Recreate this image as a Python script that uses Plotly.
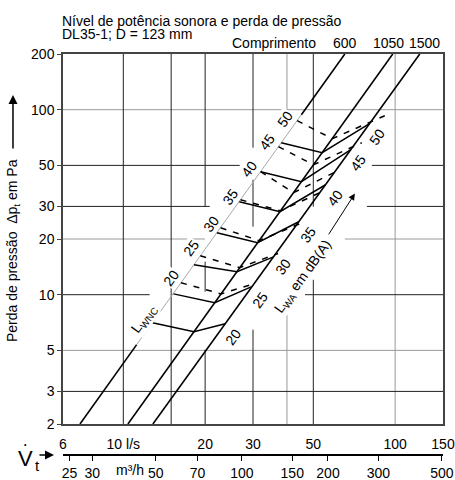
import math
import plotly.graph_objects as go

# ---------------- data ----------------
# duct length lines "Comprimento" (mm): flow in l/s at Δp = 2 Pa and 200 Pa
comprimento = ["600", "1050", "1500"]
len_v_bottom = [6.93, 10.4, 12.85]
len_v_top = [65.3, 98.0, 123.2]
len_p_bottom = 2
len_p_top = 200
# part of the 600 line drawn thin grey (carries the L_WNC scale)
scale_v = [11.2, 45.2]
scale_p = [5.37, 94.0]

# L_WA iso-lines (solid): points on 600 / 1050 / 1500 lines
lwa_levels = ["20", "25", "30", "35", "40", "45", "50"]
lwa_v = [[12.8, 18.2, 23.7], [15.3, 21.7, 29.7], [18.2, 26.2, 35.7], [22.1, 31.2, 44.2],
         [26.7, 37.7, 55.5], [32.0, 45.2, 68.7], [38.1, 53.9, 80.5]]
lwa_p = [[7.06, 6.31, 6.97], [10.1, 9.05, 11.05], [14.5, 13.3, 16.0], [21.6, 19.1, 24.8],
         [31.8, 28.1, 39.3], [46.2, 40.8, 60.8], [66.3, 58.6, 84.0]]
lwa_label_v = [25.3, 31.8, 38.6, 47.7, 60.0, 72.9, 85.6]
lwa_label_p = [5.93, 9.39, 14.17, 21.1, 33.4, 51.7, 71.4]

# L_WNC iso-lines (dashed)
lwnc_levels = ["20", "25", "30", "35", "40", "45", "50"]
lwnc_v = [[16.3, 22.9, 30.5], [19.2, 26.8, 37.1], [22.8, 31.6, 44.6], [27.0, 37.9, 53.7],
          [32.0, 42.3, 62.6], [37.2, 50.1, 75.4], [43.6, 58.7, 91.6]]
lwnc_p = [[11.6, 10.1, 11.5], [16.25, 14.0, 16.7], [23.0, 19.6, 24.2], [32.6, 28.4, 36.0],
          [46.2, 35.6, 47.4], [63.1, 50.4, 66.3], [87.2, 69.7, 92.8]]
lwnc_label_v = [14.97, 17.73, 21.0, 24.67, 28.98, 33.74, 39.3]
lwnc_label_p = [12.36, 17.95, 24.2, 33.9, 48.0, 67.1, 89.4]

# axes
x_ticks_ls = [6, 10, 20, 30, 50, 100, 150]
x_ticktext_ls = ["6", "10 l/s", "20", "30", "50", "100", "150"]
x_ticks_m3h = [25, 30, 50, 70, 100, 150, 200, 300, 500]
y_ticks = [2, 3, 5, 10, 20, 30, 50, 100, 200]

# grid lines (value, tone, visible spans)
h_grid = [(100, "g", [(6, 150)]), (50, "d", [(6, 26.8), (82.1, 150)]),
          (30, "d", [(6, 20.8), (78.7, 150)]), (20, "g", [(6, 19.96), (65.3, 150)]),
          (10, "d", [(6, 12.5), (46.6, 150)]), (5, "g", [(6, 150)]), (3, "d", [(6, 150)])]
v_grid = [(10, "d", [(2, 200)]), (15, "d", [(2, 200)]),
          (20, "d", [(2, 5.04), (10.38, 15.08), (29.9, 200)]),
          (30, "d", [(2, 6.47), (23.3, 41.8), (62.3, 200)]),
          (40, "g", [(2, 7.8), (88.3, 200)]), (50, "d", [(2, 12.05), (29.9, 200)]),
          (100, "g", [(2, 200)])]

DARK = "#222222"
GREY = "#9a9a9a"
FONT = "Liberation Sans, Arial, Helvetica, sans-serif"

fig = go.Figure()

# grid
for tone, col in (("g", GREY), ("d", DARK)):
    xs, ys = [], []
    for val, t, spans in h_grid:
        if t != tone:
            continue
        for a, b in spans:
            xs += [a, b, None]
            ys += [val, val, None]
    for val, t, spans in v_grid:
        if t != tone:
            continue
        for a, b in spans:
            xs += [val, val, None]
            ys += [a, b, None]
    fig.add_trace(go.Scatter(x=xs, y=ys, mode="lines", line=dict(color=col, width=1),
                             hoverinfo="skip"))

# duct length lines
for i, name in enumerate(comprimento):
    if i == 0:
        fig.add_trace(go.Scatter(x=[len_v_bottom[i], scale_v[0]], y=[len_p_bottom, scale_p[0]],
                                 mode="lines", line=dict(color="black", width=1.6)))
        fig.add_trace(go.Scatter(x=scale_v, y=scale_p, mode="lines",
                                 line=dict(color="#a8a8a8", width=1)))
        fig.add_trace(go.Scatter(x=[scale_v[1], len_v_top[i]], y=[scale_p[1], len_p_top],
                                 mode="lines", line=dict(color="black", width=1.6)))
    else:
        fig.add_trace(go.Scatter(x=[len_v_bottom[i], len_v_top[i]], y=[len_p_bottom, len_p_top],
                                 mode="lines", line=dict(color="black", width=1.6), name=name))

# L_WA solid lines
for v, p in zip(lwa_v, lwa_p):
    fig.add_trace(go.Scatter(x=v, y=p, mode="lines", line=dict(color="black", width=1.5)))
# L_WNC dashed lines
for v, p in zip(lwnc_v, lwnc_p):
    fig.add_trace(go.Scatter(x=v, y=p, mode="lines",
                             line=dict(color="black", width=1.5, dash="6px,7px")))

# helper axis trace for m3/h scale
fig.add_trace(go.Scatter(x=[25, 500], y=[2, 2], xaxis="x2", yaxis="y", mode="markers",
                         marker=dict(opacity=0), hoverinfo="skip"))


def pann(x, y, text, size=14, xa="center", ya="middle", **kw):
    d = dict(x=x, y=y, xref="paper", yref="paper", text=text, showarrow=False,
             xanchor=xa, yanchor=ya, font=dict(size=size))
    d.update(kw)
    return d


ann = []
ANG = -54
for lab, v, p in zip(lwnc_levels, lwnc_label_v, lwnc_label_p):
    ann.append(dict(x=math.log10(v), y=math.log10(p), xref="x", yref="y", text=lab,
                    showarrow=False, textangle=ANG, font=dict(size=14), bgcolor="white",
                    borderpad=0))
for lab, v, p in zip(lwa_levels, lwa_label_v, lwa_label_p):
    ann.append(dict(x=math.log10(v), y=math.log10(p), xref="x", yref="y", text=lab,
                    showarrow=False, textangle=ANG, font=dict(size=14), bgcolor="white",
                    borderpad=0))
ann.append(dict(x=math.log10(11.91), y=math.log10(7.42), xref="x", yref="y",
                text="L<sub>WNC</sub>", showarrow=False, textangle=ANG, font=dict(size=14),
                bgcolor="white", borderpad=0))
ann.append(dict(x=math.log10(45.8), y=math.log10(12.5), xref="x", yref="y",
                text="L<sub>WA</sub> em dB(A)", showarrow=False, textangle=ANG,
                font=dict(size=14), bgcolor="white", borderpad=0))
ann.append(dict(x=math.log10(71.1), y=math.log10(35.2), xref="x", yref="y",
                ax=math.log10(56.5), ay=math.log10(20.8), axref="x", ayref="y", text="",
                showarrow=True, arrowhead=2, arrowsize=1.3, arrowwidth=1, arrowcolor="black"))
# top labels
ann.append(pann(-0.008, 1.0831, "Nível de potência sonora e perda de pressão", xa="left"))
ann.append(pann(-0.008, 1.0491, "DL35-1; D = 123 mm", xa="left"))
ann.append(pann(0.671, 1.0267, "Comprimento", xa="right"))
for i, name in enumerate(comprimento):
    ann.append(dict(x=math.log10(len_v_top[i]), y=1.0267, xref="x", yref="paper",
                    xanchor="center", yanchor="middle", text=name, showarrow=False,
                    xshift=[0, -4, 5][i], font=dict(size=14)))
# y title with arrow
ann.append(pann(-0.1316, 0.511, "Perda de pressão  Δp<sub>t</sub> em Pa", textangle=-90))
ann.append(dict(x=-0.1316, y=0.8978, xref="paper", yref="paper", text="", showarrow=True,
                ax=0, ay=55, arrowhead=2, arrowsize=1.2, arrowwidth=1.5, arrowcolor="black"))
# V_t symbol with arrow
ann.append(pann(-0.1, -0.0075, "V", size=22))
ann.append(pann(-0.0974, 0.0274, "\u2022", size=7))
ann.append(pann(-0.0684, -0.0274, "t", size=15))
ann.append(dict(x=-0.0237, y=0.0, xref="paper", yref="paper", text="", showarrow=True,
                ax=-16, ay=0, arrowhead=2, arrowsize=1.2, arrowwidth=1.5, arrowcolor="black"))
ann.append(pann(0.176, -0.0374, "m³/h"))

fig.update_layout(
    template="none",
    width=455, height=480,
    margin=dict(l=63, r=12, t=54, b=25, autoexpand=False),
    paper_bgcolor="white", plot_bgcolor="white",
    showlegend=False,
    font=dict(family=FONT, size=14, color="black"),
    xaxis=dict(type="log", range=[math.log10(6), math.log10(150)], tickvals=x_ticks_ls,
               ticktext=x_ticktext_ls, ticks="outside", ticklen=6, automargin=False,
               tickcolor="rgba(0,0,0,0)", showgrid=False, showline=True, mirror=True,
               linecolor="#444", linewidth=1.5, zeroline=False, anchor="y"),
    xaxis2=dict(type="log", range=[1.375, 2.703], overlaying="x", anchor="free", position=0,
                side="bottom", tickvals=x_ticks_m3h, ticktext=[str(t) for t in x_ticks_m3h],
                ticks="outside", ticklen=5, tickwidth=1.3, tickcolor="black", showline=True,
                linecolor="black", linewidth=1.5, showgrid=False, zeroline=False,
                automargin=False),
    yaxis=dict(type="log", range=[math.log10(2), math.log10(200)], domain=[31 / 401, 1],
               tickvals=y_ticks, ticktext=[str(t) for t in y_ticks], ticks="outside",
               ticklen=4, tickcolor="#444", showline=True, mirror=True, linecolor="#444",
               linewidth=1.5, showgrid=False, zeroline=False, automargin=False),
    annotations=ann,
)

fig.write_html("out.html", config={"displayModeBar": False},
               post_script="document.body.style.margin='0';document.body.style.overflow='hidden';")
